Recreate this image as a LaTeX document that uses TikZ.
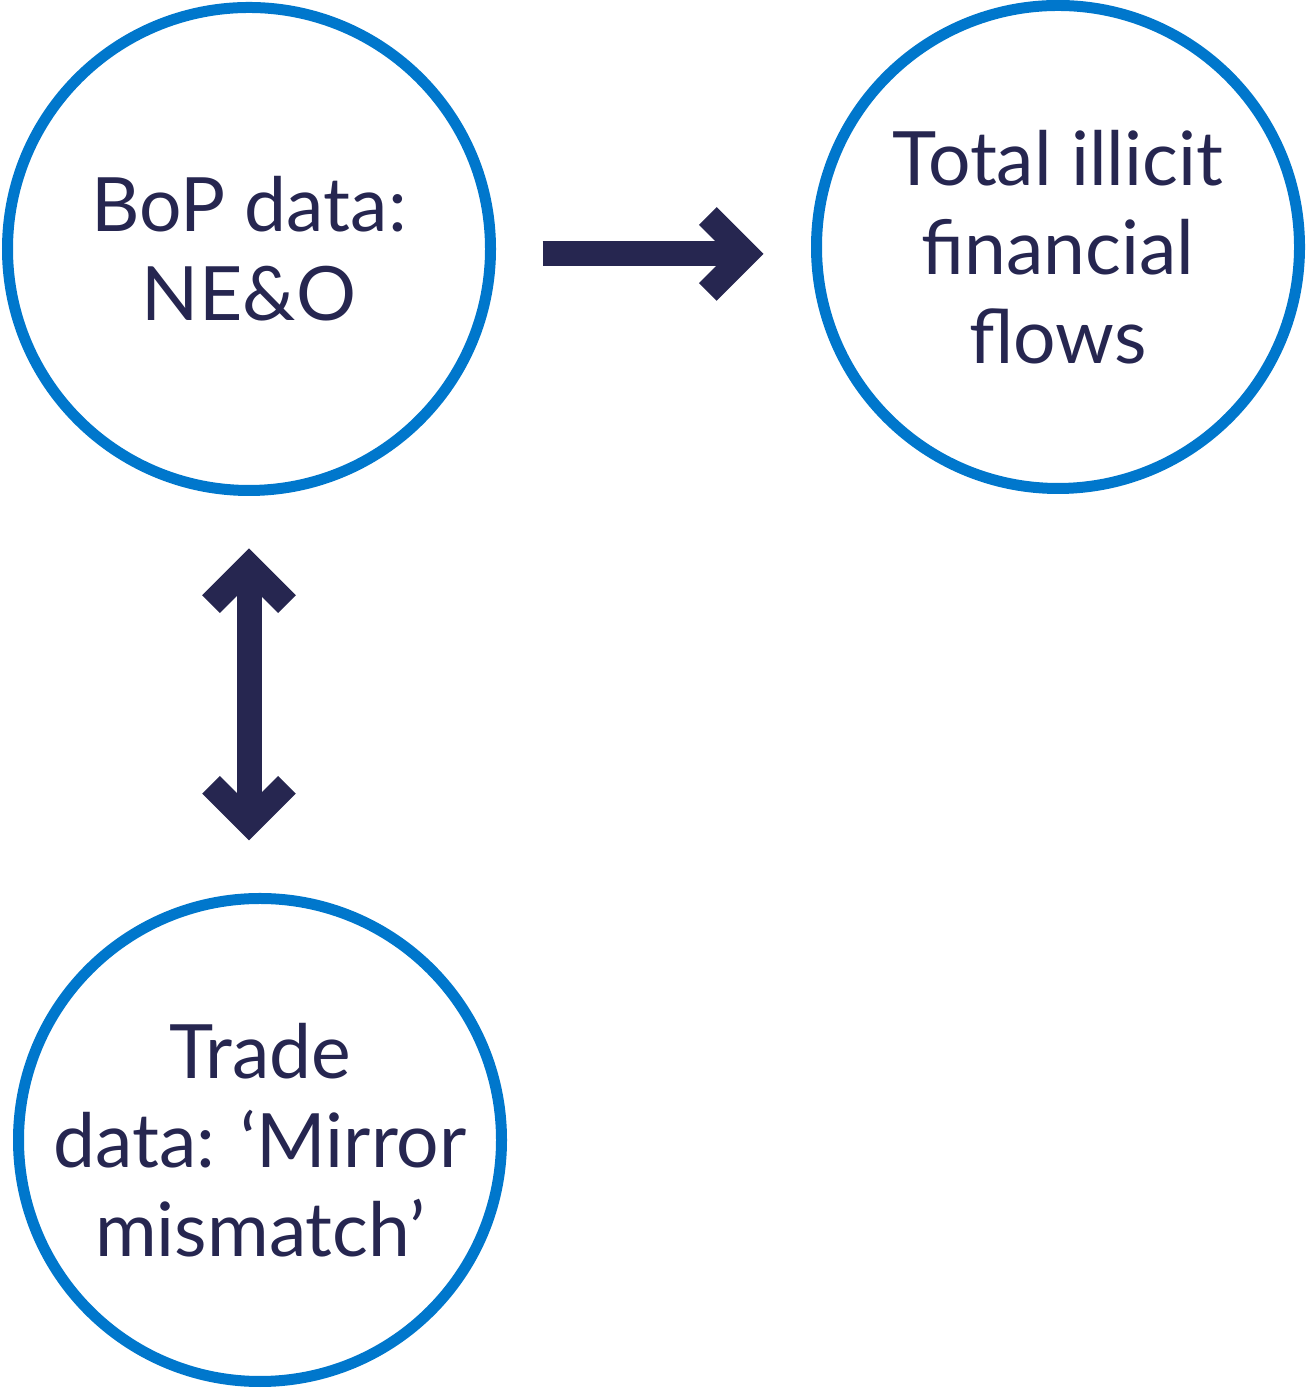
\documentclass[tikz,border=0pt]{standalone}
\usepackage{fontspec}
\setmainfont{Lato}
\usetikzlibrary{arrows.meta,positioning}
\definecolor{ring}{HTML}{0077CC}
\definecolor{ink}{HTML}{262650}

\begin{document}
\begin{tikzpicture}[x=1pt,y=1pt,
    source/.style={circle,draw=ring,line width=11pt,minimum size=483pt,inner sep=0pt,outer sep=0pt,
      text=ink,align=center,font=\fontsize{75}{89}\selectfont},
    flow/.style={ink,line width=25pt,-{Straight Barb[length=38pt,width=76pt,sharp]}},
    both/.style={ink,line width=25pt,{Straight Barb[length=38pt,width=76pt,sharp]}-{Straight Barb[length=38pt,width=76pt,sharp]}}]
  \useasboundingbox (0,0) rectangle (1306,1388);

  \node[source] (bop) at (249,1139) {BoP data:\\NE\&O};
  \node[source] (iff) at (1058,1141) {Total illicit\\financial\\flows};
  \node[source] (trade) at (260,248) {Trade\\data: ‘Mirror\\mismatch’};

  \draw[flow,shorten <=52pt,shorten >=53pt] ([yshift=-5pt]bop.east) -- ([yshift=-5pt]bop.east -| iff.west);
  \draw[both,shorten <=58pt,shorten >=58pt] (bop.south) -- (bop.south |- trade.north);
\end{tikzpicture}
\end{document}
